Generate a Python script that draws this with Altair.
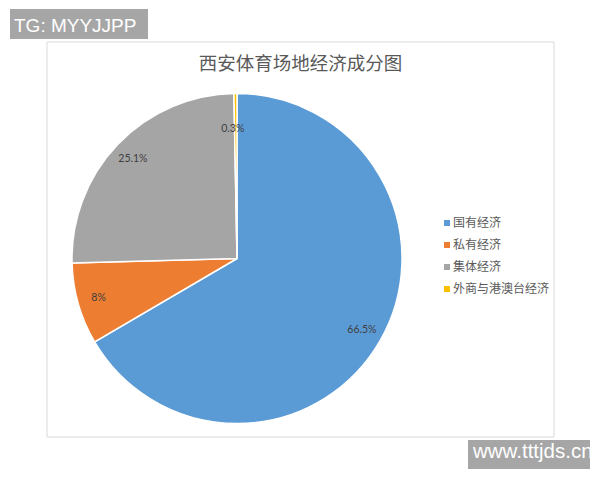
import altair as alt
import pandas as pd

categories = ["国有经济", "私有经济", "集体经济", "外商与港澳台经济"]
shares = [66.5, 8, 25.1, 0.3]
labels = ["66.5%", "8%", "25.1%", "0.3%"]
colors = ["#5B9BD5", "#ED7D31", "#A5A5A5", "#FFC000"]
title_text = "西安体育场地经济成分图"
watermark_top = "TG: MYYJJPP"
watermark_bottom = "www.tttjds.cn"

df = pd.DataFrame({"category": categories, "share": shares, "label": labels,
                   "order": list(range(len(categories)))})

CX, CY, R = 229, 250.5, 165
one = pd.DataFrame({"k": [0]})

frame = alt.Chart(one).mark_rect(fill="white", stroke="#d9d9d9", strokeWidth=1).encode(
    x=alt.value(39), x2=alt.value(546), y=alt.value(34), y2=alt.value(429))

wm1_box = alt.Chart(one).mark_rect(fill="#a6a6a6").encode(
    x=alt.value(2), x2=alt.value(140), y=alt.value(1), y2=alt.value(31))
wm1_txt = alt.Chart(pd.DataFrame({"t": [watermark_top]})).mark_text(
    align="left", baseline="alphabetic", font="Liberation Sans", fontSize=19,
    color="white").encode(x=alt.value(6), y=alt.value(24), text="t:N")

wm2_box = alt.Chart(one).mark_rect(fill="#a6a6a6").encode(
    x=alt.value(460), x2=alt.value(582), y=alt.value(432), y2=alt.value(461))
wm2_txt = alt.Chart(pd.DataFrame({"t": [watermark_bottom]})).mark_text(
    align="left", baseline="alphabetic", font="Liberation Sans", fontSize=20.5,
    color="white").encode(x=alt.value(465), y=alt.value(450), text="t:N")

title = alt.Chart(pd.DataFrame({"t": [title_text]})).mark_text(
    align="center", baseline="middle", font="Noto Sans CJK SC", fontSize=18.5,
    color="#595959").encode(x=alt.value(292.5), y=alt.value(56), text="t:N")

base = alt.Chart(df)
theta = alt.Theta("share:Q", stack=True)
order = alt.Order("order:O")

pie = base.mark_arc(radius=R, stroke="white", strokeWidth=1.5).encode(
    x=alt.value(CX), y=alt.value(CY), theta=theta, order=order,
    color=alt.Color("category:N", scale=alt.Scale(domain=categories, range=colors),
                    legend=alt.Legend(title=None, orient="none", legendX=433, legendY=209,
                                      symbolType="square", symbolSize=36, symbolStrokeWidth=0,
                                      labelFont="Noto Sans CJK SC", labelFontSize=12,
                                      labelColor="#595959", rowPadding=10, labelOffset=0)))

lbl_main = base.mark_text(radius=144, font="Lato", fontSize=10.5, color="#404040").encode(
    x=alt.value(CX), y=alt.value(CY), theta=theta, order=order,
    text=alt.condition(alt.datum.share > 1, "label:N", alt.value("")))

lbl_small = base.mark_text(radius=130, dx=-3, font="Lato", fontSize=10.5, color="#404040").encode(
    x=alt.value(CX), y=alt.value(CY), theta=theta, order=order,
    text=alt.condition(alt.datum.share <= 1, "label:N", alt.value("")))

chart = alt.layer(frame, wm1_box, wm1_txt, wm2_box, wm2_txt, title, pie, lbl_main, lbl_small).properties(
    width=584, height=464, autosize=alt.AutoSizeParams(type="none"), padding=0,
    background="white"
).configure_view(stroke=None)

chart.save("out.html", embed_options={"renderer": "svg", "actions": False})
